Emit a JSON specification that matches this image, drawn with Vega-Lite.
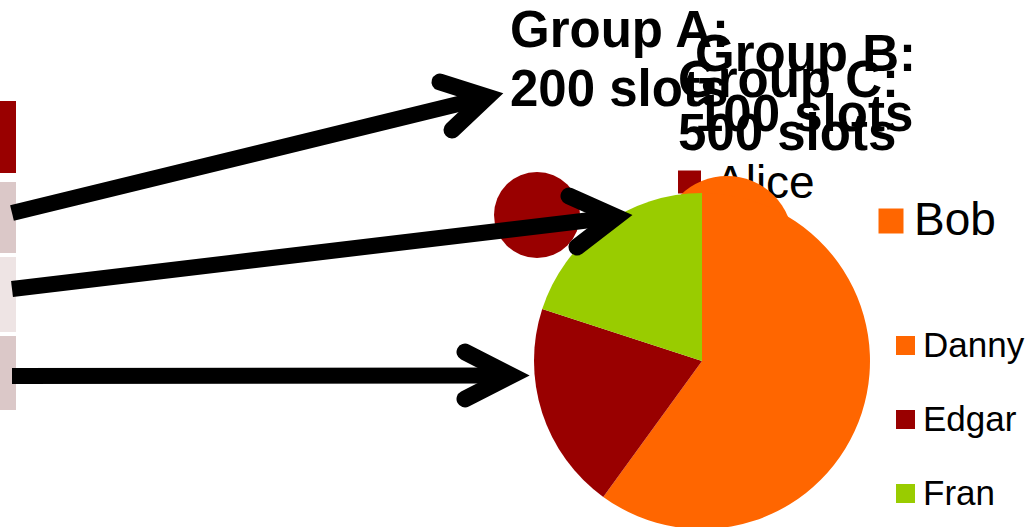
{
  "$schema": "https://vega.github.io/schema/vega-lite/v6.json",
  "width": 1034,
  "height": 527,
  "autosize": "none",
  "padding": 0,
  "background": "white",
  "config": {"view": {"stroke": null}, "font": "Liberation Sans"},
  "datasets": {
    "bands": [
      {"band": "b1", "x0": 0, "x1": 16, "y0": 101, "y1": 173},
      {"band": "b2", "x0": 0, "x1": 16, "y0": 182, "y1": 253},
      {"band": "b3", "x0": 0, "x1": 16, "y0": 257, "y1": 332},
      {"band": "b4", "x0": 0, "x1": 16, "y0": 336, "y1": 410}
    ],
    "groupA": [{"person": "Alice", "slots": 200, "cx": 537, "cy": 215, "lx": 689.5, "ly": 182, "tx": 715, "ty": 198}],
    "groupB": [{"person": "Bob", "slots": 100, "cx": 727, "cy": 242}],
    "groupC": [
      {"person": "Danny", "slots": 300, "cx": 702, "cy": 361},
      {"person": "Edgar", "slots": 100, "cx": 702, "cy": 361},
      {"person": "Fran", "slots": 100, "cx": 702, "cy": 361}
    ],
    "shafts": [
      {"arrow": 1, "x0": 12, "y0": 213, "x1": 487, "y1": 97},
      {"arrow": 2, "x0": 12, "y0": 289, "x1": 616, "y1": 217},
      {"arrow": 3, "x0": 12, "y0": 376, "x1": 511, "y1": 375.5}
    ],
    "heads": [
      {"arrow": 1, "o": 1, "hx": 440, "hy": 82},
      {"arrow": 1, "o": 2, "hx": 487, "hy": 97},
      {"arrow": 1, "o": 3, "hx": 452, "hy": 130},
      {"arrow": 2, "o": 1, "hx": 569, "hy": 196},
      {"arrow": 2, "o": 2, "hx": 616, "hy": 217},
      {"arrow": 2, "o": 3, "hx": 577, "hy": 247},
      {"arrow": 3, "o": 1, "hx": 465, "hy": 352},
      {"arrow": 3, "o": 2, "hx": 511, "hy": 375.5},
      {"arrow": 3, "o": 3, "hx": 465, "hy": 399}
    ],
    "titles": [
      {"group": "A", "label": "Group A:", "tx": 510, "ty": 47},
      {"group": "A", "label": "200 slots", "tx": 510, "ty": 106},
      {"group": "B", "label": "Group B:", "tx": 695, "ty": 71},
      {"group": "B", "label": "100 slots", "tx": 695, "ty": 131},
      {"group": "C", "label": "Group C:", "tx": 678, "ty": 97},
      {"group": "C", "label": "500 slots", "tx": 678, "ty": 150}
    ]
  },
  "layer": [
    {
      "data": {"name": "bands"},
      "mark": {"type": "rect"},
      "encoding": {
        "x": {"field": "x0", "type": "quantitative", "scale": {"domain": [0, 1034], "nice": false, "zero": false}, "axis": null},
        "x2": {"field": "x1"},
        "y": {"field": "y0", "type": "quantitative", "scale": {"domain": [0, 527], "nice": false, "zero": false, "reverse": true}, "axis": null},
        "y2": {"field": "y1"},
        "color": {"field": "band", "type": "nominal", "scale": {"domain": ["b1", "b2", "b3", "b4"], "range": ["#990000", "#dbc8c8", "#eee4e4", "#dbc8c8"]}, "legend": null}
      }
    },
    {
      "data": {"name": "groupA"},
      "mark": {"type": "arc", "outerRadius": 43},
      "encoding": {
        "theta": {"field": "slots", "type": "quantitative"},
        "x": {"field": "cx", "type": "quantitative", "axis": null},
        "y": {"field": "cy", "type": "quantitative", "axis": null},
        "color": {"field": "person", "type": "nominal", "scale": {"domain": ["Alice"], "range": ["#990000"]}, "legend": null}
      }
    },
    {
      "data": {"name": "groupA"},
      "mark": {"type": "point", "shape": "square", "filled": true, "size": 529, "opacity": 1},
      "encoding": {
        "x": {"field": "lx", "type": "quantitative", "axis": null},
        "y": {"field": "ly", "type": "quantitative", "axis": null},
        "color": {"field": "person", "type": "nominal", "scale": {"domain": ["Alice"], "range": ["#990000"]}, "legend": null}
      }
    },
    {
      "data": {"name": "groupA"},
      "mark": {"type": "text", "align": "left", "baseline": "alphabetic", "fontSize": 46, "font": "Liberation Sans", "color": "black"},
      "encoding": {
        "x": {"field": "tx", "type": "quantitative", "axis": null},
        "y": {"field": "ty", "type": "quantitative", "axis": null},
        "text": {"field": "person"}
      }
    },
    {
      "data": {"name": "groupB"},
      "mark": {"type": "arc", "outerRadius": 66},
      "encoding": {
        "theta": {"field": "slots", "type": "quantitative"},
        "x": {"field": "cx", "type": "quantitative", "axis": null},
        "y": {"field": "cy", "type": "quantitative", "axis": null},
        "color": {
          "field": "person", "type": "nominal",
          "scale": {"domain": ["Bob"], "range": ["#ff6600"]},
          "legend": {"orient": "none", "legendX": 868, "legendY": 198, "title": null, "symbolType": "square", "symbolSize": 625, "symbolStrokeWidth": 0, "labelFontSize": 46, "labelFont": "Liberation Sans", "labelColor": "black", "labelOffset": 0, "padding": 0}
        }
      }
    },
    {
      "data": {"name": "groupC"},
      "mark": {"type": "arc", "outerRadius": 168},
      "encoding": {
        "theta": {"field": "slots", "type": "quantitative"},
        "x": {"field": "cx", "type": "quantitative", "axis": null},
        "y": {"field": "cy", "type": "quantitative", "axis": null},
        "color": {
          "field": "person", "type": "nominal",
          "scale": {"domain": ["Danny", "Edgar", "Fran"], "range": ["#ff6600", "#990000", "#99cc00"]},
          "legend": {"orient": "none", "legendX": 888, "legendY": 328, "title": null, "symbolType": "square", "symbolSize": 361, "symbolStrokeWidth": 0, "labelFontSize": 35, "labelFont": "Liberation Sans", "labelColor": "black", "labelOffset": 0, "rowPadding": 38, "padding": 0}
        }
      }
    },
    {
      "data": {"name": "shafts"},
      "mark": {"type": "rule", "strokeWidth": 16, "strokeCap": "butt", "color": "black"},
      "encoding": {
        "x": {"field": "x0", "type": "quantitative", "axis": null},
        "y": {"field": "y0", "type": "quantitative", "axis": null},
        "x2": {"field": "x1"},
        "y2": {"field": "y1"}
      }
    },
    {
      "data": {"name": "heads"},
      "mark": {"type": "line", "strokeWidth": 17, "strokeCap": "round", "strokeJoin": "miter", "color": "black"},
      "encoding": {
        "x": {"field": "hx", "type": "quantitative", "axis": null},
        "y": {"field": "hy", "type": "quantitative", "axis": null},
        "detail": {"field": "arrow", "type": "nominal"},
        "order": {"field": "o", "type": "quantitative"}
      }
    },
    {
      "data": {"name": "titles"},
      "mark": {"type": "text", "align": "left", "baseline": "alphabetic", "fontSize": 51, "fontWeight": "bold", "font": "Liberation Sans", "color": "black"},
      "encoding": {
        "x": {"field": "tx", "type": "quantitative", "axis": null},
        "y": {"field": "ty", "type": "quantitative", "axis": null},
        "text": {"field": "label"}
      }
    }
  ],
  "resolve": {"scale": {"theta": "independent", "color": "independent"}, "legend": {"color": "independent"}}
}
